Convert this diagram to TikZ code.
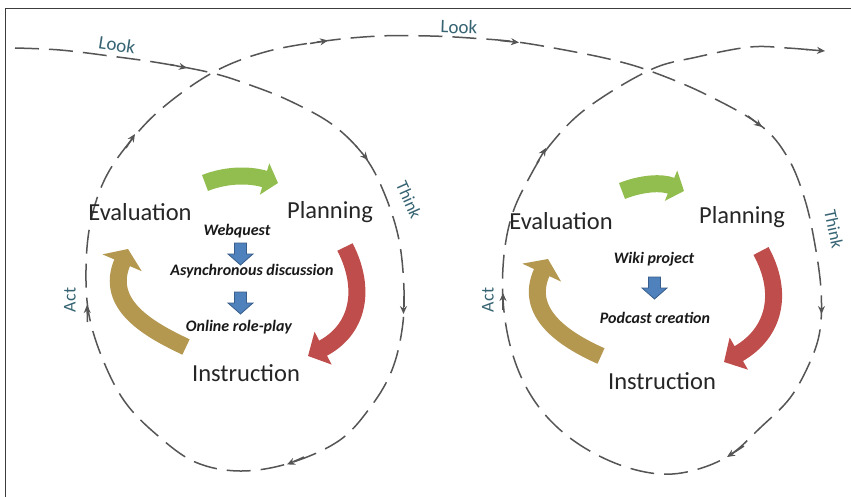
\documentclass[tikz,border=0pt]{standalone}
\usepackage{fontspec}
\setmainfont{Carlito}
\usetikzlibrary{arrows.meta}
\definecolor{loopgray}{RGB}{85,85,85}
\definecolor{framegray}{RGB}{60,60,60}
\definecolor{tealtxt}{RGB}{55,100,115}
\definecolor{grnc}{RGB}{146,190,80}
\definecolor{redc}{RGB}{190,77,75}
\definecolor{goldc}{RGB}{180,152,80}
\definecolor{bluef}{RGB}{79,129,189}
\definecolor{blueb}{RGB}{56,93,138}
\begin{document}
\begin{tikzpicture}[x=1pt,y=-1pt,
  loopline/.style={draw=loopgray, line width=1.5pt, dash pattern=on 24pt off 10pt},
  looptip/.style={draw=loopgray, line width=1.5pt, -{Stealth[length=8pt,width=7pt]}},
  stage/.style={font=\fontsize{24.5}{28}\selectfont, text=black!85, inner sep=0pt},
  activity/.style={font=\fontsize{16}{19}\selectfont\bfseries\itshape, text=black!90, inner sep=0pt},
  cyclelabel/.style={font=\fontsize{19}{22}\selectfont, text=tealtxt, inner sep=0pt},
  band/.style={line width=17pt},
  bluearrow/.pic={\filldraw[fill=bluef, draw=blueb, line width=0.8pt]
     (-6,0) -- (6,0) -- (6,11) -- (12.5,11) -- (0,22) -- (-12.5,11) -- (-6,11) -- cycle;}
]
\useasboundingbox (0,0) rectangle (851,497);
\fill[white] (0,0) rectangle (851,497);
% frame (top and left edges)
\draw[framegray, line width=1.6pt] (5.5,497) -- (5.5,8.5) -- (851,8.5);

% dashed loop path
\draw[loopline] plot[smooth, tension=0.6] coordinates {
 (15,48) (60,50) (110,56) (160,63) (212,73) (250,85) (290,101) (333,125) (365,157)
 (385,195) (399,240) (404,290) (402,330) (392,370) (372,405) (340,440) (290,463)
 (240,471) (195,462) (157,435) (125,402) (103,360) (89,315) (86,270) (90,225)
 (103,183) (125,148) (160,110) (212,73) (265,52) (325,41) (380,36) (430,36)
 (470,38) (517,42) (570,51) (613,60) (650,71) (703,93) (760,125) (788,158)
 (805,200) (815,245) (821,290) (820,330) (810,362) (790,398) (760,428) (730,455)
 (695,470) (660,474) (620,465) (580,445) (548,418) (525,385) (510,345) (503,300)
 (504,255) (512,215) (528,180) (550,145) (587,108) (650,70) (697,57) (750,47)
 (787,48) (812,50)};

% arrowheads on the loop
\draw[looptip] (170,64.5) -- (187,68);
\draw[looptip] (356,146) -- (368,160);
\draw[looptip] (403.5,296) -- (403.5,314);
\draw[looptip] (304,457) -- (287,464.5);
\draw[looptip] (87.5,322) -- (87,305);
\draw[looptip] (126,148) -- (135,134);
\draw[looptip] (310,43.5) -- (328,40.5);
\draw[looptip] (500,40.5) -- (519,42.5);
\draw[looptip] (748,116) -- (762,127);
\draw[looptip] (821.5,296) -- (821.5,314);
\draw[looptip] (744,446) -- (727,457);
\draw[looptip] (503,310) -- (503,293);
\draw[looptip] (537,163) -- (546,148);
\draw[looptip] (806,49.5) -- (825,51);

% cycle labels
\node[cyclelabel, rotate=-9] (look1) at (117,45) {Look};
\node[cyclelabel, rotate=-2] (look2) at (459,27) {Look};
\node[cyclelabel, font=\fontsize{17.5}{20}\selectfont, rotate=-66] (think1) at (409,200) {Think};
\node[cyclelabel, font=\fontsize{17.5}{20}\selectfont, rotate=-78] (think2) at (834,229) {Think};
\node[cyclelabel, font=\fontsize{18}{20}\selectfont, rotate=90] (act1) at (70,300) {Act};
\node[cyclelabel, font=\fontsize{18}{20}\selectfont, rotate=90] (act2) at (488,300) {Act};

% ---- left cycle ----
\draw[band, grnc, -{Triangle[length=14pt,width=32pt]}] (205,183) .. controls (225,175) and (248,174) .. (278,183);
\draw[band, redc, -{Triangle[length=17pt,width=36pt]}] (345,247) .. controls (367,290) and (358,330) .. (308,356);
\draw[band, goldc, -{Triangle[length=15pt,width=42pt]}] (186,347) .. controls (150,330) and (104,305) .. (128,249);

\node[stage] (eval1) at (140,212) {Evaluation};
\node[stage] (plan1) at (330,212) {Planning};
\node[stage] (inst1) at (246,373) {Instruction};
\node[activity] (web) at (237,231) {Webquest};
\pic at (240.5,243) {bluearrow};
\node[activity] (async) at (252,271) {Asynchronous discussion};
\pic at (240.5,292) {bluearrow};
\node[activity] (role) at (239,327) {Online role-play};

% ---- right cycle ----
\draw[band, grnc, -{Triangle[length=14pt,width=32pt]}] (622,191) .. controls (642,183) and (662,182) .. (684,191);
\draw[band, redc, -{Triangle[length=17pt,width=36pt]}] (761,251) .. controls (784,293) and (775,333) .. (724,362);
\draw[band, goldc, -{Triangle[length=15pt,width=42pt]}] (601,356) .. controls (565,340) and (523,313) .. (548,259);

\node[stage] (eval2) at (561,221) {Evaluation};
\node[stage] (plan2) at (742,217) {Planning};
\node[stage] (inst2) at (662,381) {Instruction};
\node[activity] (wiki) at (654,259) {Wiki project};
\pic at (654.5,277) {bluearrow};
\node[activity] (pod) at (655,318) {Podcast creation};
\end{tikzpicture}
\end{document}
